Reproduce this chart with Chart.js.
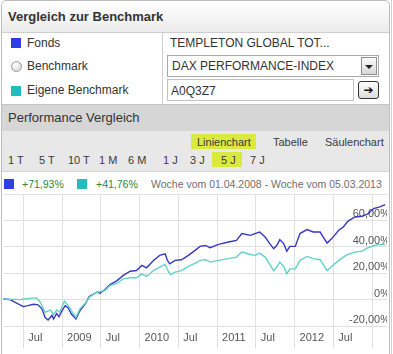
<!DOCTYPE html>
<html>
<head>
<meta charset="utf-8">
<script src="https://cdn.jsdelivr.net/npm/chart.js@4"></script>
<style>
    body { margin: 0; width: 393px; height: 354px; overflow: hidden; background: #fff;
           font-family: "Liberation Sans", Arial, sans-serif; color: #333; position: relative; }
    .abs { position: absolute; white-space: nowrap; }
    .panel { left: 1px; top: 0; width: 387px; height: 360px; border: 1px solid #bdbdbd;
             border-radius: 5px 5px 0 0; }
    .outer { left: 391px; top: 0; width: 0; height: 354px; border-left: 1px solid #d0d0d0; }
    .head { left: 2px; top: 1px; width: 387px; height: 31px; border-bottom: 1px solid #cfcfcf;
            background: linear-gradient(#ffffff, #ebebeb); border-radius: 5px 5px 0 0; }
    .head span { position: absolute; left: 6px; top: 8px; font-size: 13px; font-weight: bold; }
    .row { font-size: 12px; line-height: 14px; }
    .sq { width: 10px; height: 10px; }
    .divider { left: 162px; top: 33px; width: 0; height: 71px; border-left: 1px solid #cfcfcf; }
    .box { border: 1px solid #a9a9a9; background: #fff; font-size: 12px; }
    .bar { left: 2px; top: 104px; width: 387px; height: 26px; background: #d6d6d6;
           border-top: 1px solid #c4c4c4; }
    .bar span { position: absolute; left: 6px; top: 5px; font-size: 13px; }
    .tabs { left: 2px; top: 131px; width: 387px; height: 40px; background: #e8e8e8;
            border-bottom: 1px solid #d4d4d4; }
    .t { font-size: 11px; line-height: 13px; color: #3a3a3a; }
    .hl { background: #d9ea3c; }
</style>
</head>
<body>
<div class="abs panel"></div>
<div class="abs outer"></div>
<div class="abs head"><span>Vergleich zur Benchmark</span></div>

<div class="abs sq" style="left:11px;top:38px;background:#2f3de6"></div>
<div class="abs row" style="left:27px;top:36px">Fonds</div>
<div class="abs" style="left:11px;top:61px;width:9px;height:9px;border-radius:50%;border:1px solid #9a9a9a;background:radial-gradient(circle at 40% 35%, #fff, #cfcfcf)"></div>
<div class="abs row" style="left:27px;top:59px">Benchmark</div>
<div class="abs sq" style="left:11px;top:86px;background:#1fbdbd"></div>
<div class="abs row" style="left:27px;top:83px">Eigene Benchmark</div>
<div class="abs divider"></div>

<div class="abs row" style="left:170px;top:36px">TEMPLETON GLOBAL TOT...</div>
<div class="abs box" style="left:167px;top:55px;width:210px;height:20px">
    <span class="abs" style="left:4px;top:3px">DAX PERFORMANCE-INDEX</span>
    <span class="abs" style="left:193px;top:1px;width:14px;height:16px;border:1px solid #8f8f8f;background:linear-gradient(#fafafa,#d8d8d8)">
        <span class="abs" style="left:3px;top:7px;width:0;height:0;border-left:4px solid transparent;border-right:4px solid transparent;border-top:4px solid #222"></span>
    </span>
</div>
<div class="abs box" style="left:167px;top:79px;width:185px;height:20px;border-color:#c2c2c2">
    <span class="abs" style="left:3px;top:4px">A0Q3Z7</span>
</div>
<div class="abs" style="left:358px;top:81px;width:19px;height:16px;border:1px solid #333;border-radius:3px;background:linear-gradient(#fdfdfd,#dcdcdc);font-family:'DejaVu Sans';font-size:12px;font-weight:bold;color:#111;text-align:center;line-height:16px">&#10132;</div>

<div class="abs bar"><span>Performance Vergleich</span></div>
<div class="abs tabs"></div>
<div class="abs hl" style="left:191px;top:134px;width:65px;height:15px"></div>
<div class="abs t" style="left:197px;top:136px">Linienchart</div>
<div class="abs t" style="left:273px;top:136px">Tabelle</div>
<div class="abs t" style="left:325px;top:136px">Säulenchart</div>
<div class="abs hl" style="left:212px;top:152px;width:30px;height:15px"></div>
<div class="abs t" style="left:8px;top:154px">1 T</div>
<div class="abs t" style="left:39px;top:154px">5 T</div>
<div class="abs t" style="left:68px;top:154px">10 T</div>
<div class="abs t" style="left:99px;top:154px">1 M</div>
<div class="abs t" style="left:128px;top:154px">6 M</div>
<div class="abs t" style="left:163px;top:154px">1 J</div>
<div class="abs t" style="left:190px;top:154px">3 J</div>
<div class="abs t" style="left:221px;top:154px">5 J</div>
<div class="abs t" style="left:250px;top:154px">7 J</div>

<div class="abs sq" style="left:4px;top:179px;background:#2f3de6"></div>
<div class="abs t" style="left:22px;top:178px;color:#1f8a45;font-size:10.5px">+71,93%</div>
<div class="abs sq" style="left:77px;top:179px;background:#1fbdbd"></div>
<div class="abs t" style="left:96px;top:178px;color:#1f8a45;font-size:10.5px">+41,76%</div>
<div class="abs t" style="left:151px;top:178px;color:#707070;font-size:10.5px">Woche vom 01.04.2008 - Woche vom 05.03.2013</div>

<div class="abs" style="left:3px;top:192px;width:384px;height:162px">
    <canvas id="perfChart" width="384" height="162"></canvas>
</div>

<script>
// weekly performance (x = decimal year, y = % since 01.04.2008)
const fondsX = [2008.24, 2008.33, 2008.42, 2008.50, 2008.56, 2008.63, 2008.69, 2008.74, 2008.78, 2008.82,
    2008.87, 2008.89, 2008.93, 2008.96, 2009.00, 2009.04, 2009.08, 2009.12, 2009.18, 2009.23,
    2009.30, 2009.35, 2009.45, 2009.49, 2009.55, 2009.62, 2009.71, 2009.79, 2009.88, 2009.96,
    2010.03, 2010.09, 2010.18, 2010.26, 2010.33, 2010.36, 2010.39, 2010.46, 2010.54, 2010.63,
    2010.72, 2010.78, 2010.85, 2010.91, 2011.02, 2011.15, 2011.25, 2011.32, 2011.43, 2011.49,
    2011.55, 2011.62, 2011.68, 2011.73, 2011.77, 2011.81, 2011.86, 2011.90, 2011.94, 2012.01,
    2012.07, 2012.16, 2012.24, 2012.33, 2012.37, 2012.42, 2012.48, 2012.57, 2012.63, 2012.69,
    2012.78, 2012.87, 2012.95, 2013.02, 2013.10, 2013.17];
const fondsY = [0.5, 0, -2.8, -5.3, -4.6, -3.5, -4, -7, -13.4, -15.5,
    -12, -14.7, -10.6, -13, -8.4, -4.6, -6.3, -10.9, -14.7, -8.4,
    -3.3, 2.3, 5.6, 4.8, 7.4, 11.4, 14.4, 18.3, 21.5, 22,
    25.9, 24.1, 29.7, 33.5, 34.7, 29.7, 27.1, 29.7, 30.2, 33.5,
    37.5, 40.3, 41, 39.3, 41.8, 43.6, 44.9, 50, 48.7, 50,
    51.2, 47.4, 42.4, 38.6, 41, 45.4, 42.4, 36.7, 40.3, 40.3,
    50, 53, 51.2, 51.2, 47.4, 42.8, 46.2, 52.5, 55, 59.5,
    62.6, 63.1, 65.2, 69, 70.2, 71.93];

const benchX = [2008.24, 2008.46, 2008.54, 2008.67, 2008.72, 2008.78, 2008.85, 2008.89, 2008.93, 2008.97,
    2009.03, 2009.08, 2009.12, 2009.18, 2009.23, 2009.30, 2009.35, 2009.45, 2009.55, 2009.62,
    2009.71, 2009.79, 2009.88, 2009.96, 2010.03, 2010.09, 2010.18, 2010.26, 2010.33, 2010.37,
    2010.40, 2010.46, 2010.54, 2010.63, 2010.72, 2010.78, 2010.85, 2010.91, 2011.02, 2011.15,
    2011.25, 2011.32, 2011.43, 2011.49, 2011.55, 2011.62, 2011.68, 2011.73, 2011.77, 2011.81,
    2011.86, 2011.90, 2011.94, 2012.01, 2012.07, 2012.16, 2012.24, 2012.33, 2012.37, 2012.42,
    2012.48, 2012.57, 2012.63, 2012.69, 2012.78, 2012.87, 2012.95, 2013.02, 2013.10, 2013.17];
const benchY = [0.5, 0, 0.6, 1.3, -2, -9.6, -7.9, -11.4, -7.9, -9.6,
    -1.3, -4.6, -8.4, -13.4, -7, -2.8, 1.8, 5.6, 6.8, 10.6,
    12.4, 15.7, 16.5, 16.5, 19.5, 17.5, 22, 24.6, 26.6, 21.5,
    19, 20.8, 22, 25.1, 27.6, 29.7, 30.2, 28.4, 29.7, 31,
    32.2, 36, 34.2, 33.5, 35.2, 32.2, 26.6, 22, 24.6, 28.4,
    25.1, 19.5, 23.3, 23.3, 29.7, 32.7, 31, 30.2, 26.6, 22,
    25.1, 29.7, 32.2, 34.2, 36, 36.7, 39.3, 40.8, 41.8, 41.76];

const xTickValues = [2008.5, 2009, 2009.5, 2010, 2010.5, 2011, 2011.5, 2012, 2012.5, 2013];
const xTickLabels = ["Jul", "2009", "Jul", "2010", "Jul", "2011", "Jul", "2012", "Jul", ""];
const yTickValues = [-20, 0, 20, 40, 60, 80];
const yTickLabels = ["-20,00%", "0%", "20,00%", "40,00%", "60,00%", ""];

const toPoints = (xs, ys) => xs.map((x, i) => ({x: x, y: ys[i]}));
const gridColor = "#e0e0e0";

new Chart(document.getElementById("perfChart"), {
    type: "line",
    data: {
        datasets: [
            {
                label: "Eigene Benchmark",
                data: toPoints(benchX, benchY),
                borderColor: "#62d2c8",
                borderWidth: 1.4,
                pointRadius: 0,
                tension: 0
            },
            {
                label: "Fonds",
                data: toPoints(fondsX, fondsY),
                borderColor: "#3838c6",
                borderWidth: 1.4,
                pointRadius: 0,
                tension: 0
            }
        ]
    },
    options: {
        responsive: false,
        animation: false,
        devicePixelRatio: 1,
        layout: { padding: { top: 2, left: 0, right: 0, bottom: 0 } },
        plugins: { legend: { display: false }, tooltip: { enabled: false } },
        scales: {
            x: {
                type: "linear",
                min: 2008.238,
                max: 2013.193,
                afterBuildTicks: scale => {
                    scale.ticks = xTickValues.map(v => ({value: v}));
                },
                afterFit: scale => {
                    scale.paddingLeft = 0;
                    scale.paddingRight = 0;
                    scale.height = 28;
                },
                grid: { color: gridColor, tickLength: 22 },
                border: { display: false },
                ticks: {
                    align: "start",
                    labelOffset: 5,
                    padding: -17,
                    maxRotation: 0,
                    autoSkip: false,
                    color: "#555",
                    font: { family: "Liberation Sans", size: 11 },
                    callback: (v, i) => xTickLabels[i]
                }
            },
            y: {
                position: "right",
                min: -20,
                max: 80,
                afterBuildTicks: scale => {
                    scale.ticks = yTickValues.map(v => ({value: v}));
                },
                afterFit: scale => {
                    scale.paddingTop = 0;
                    scale.paddingBottom = 0;
                    scale.width = 0;
                },
                grid: { color: gridColor, drawTicks: false },
                border: { display: false },
                ticks: {
                    mirror: true,
                    padding: 3,
                    labelOffset: -6,
                    color: "#555",
                    font: { family: "Liberation Sans", size: 11 },
                    callback: (v, i) => yTickLabels[i]
                }
            }
        }
    }
});
</script>
</body>
</html>
